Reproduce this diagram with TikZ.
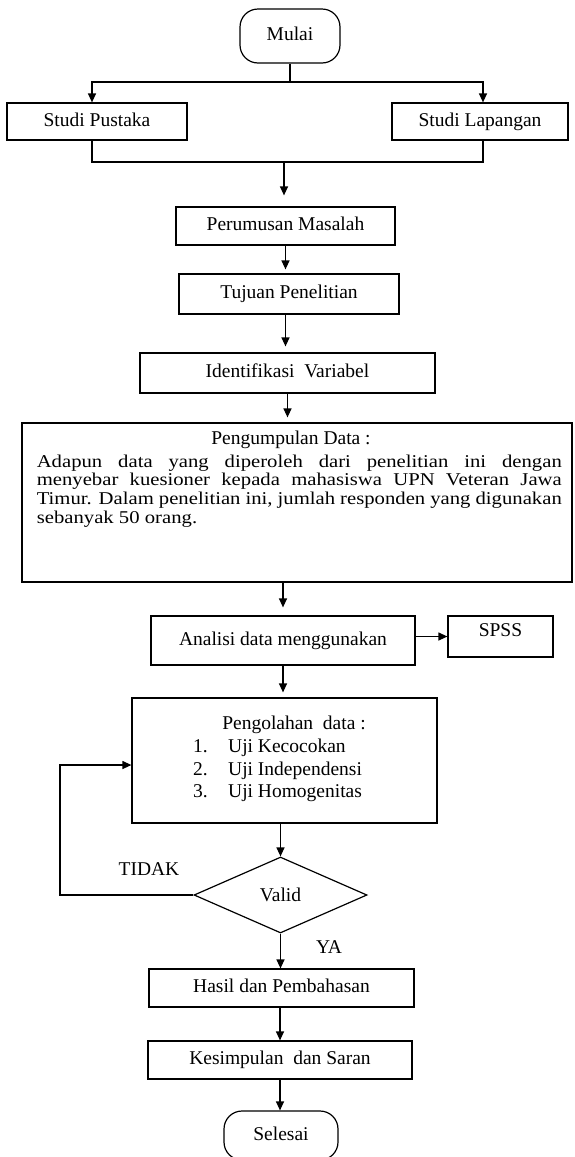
\documentclass[tikz,border=0pt]{standalone}
\usepackage{fontspec}
\setmainfont{Liberation Serif}
\newfontfamily\parafont[FakeStretch=1.15]{Liberation Serif}
\usetikzlibrary{arrows.meta,shapes.geometric}
\newcommand\lblfont{\fontsize{19.5}{22.5}\selectfont}
\tikzset{
  box/.style={draw, line width=1.2pt, inner sep=0pt, font=\lblfont, align=center, text height=13.5pt, text depth=4.5pt},
  terminal/.style={box, rounded corners=18pt},
  decision/.style={draw, line width=1.2pt, diamond, inner sep=0pt, font=\lblfont, aspect=2.28},
  plain/.style={inner sep=0pt, font=\lblfont},
  conn/.style={line width=1.2pt},
  arr/.style={conn, -{Triangle[length=9pt,width=8pt]}},
}
\begin{document}
\begin{tikzpicture}[x=1pt,y=-1pt]
\useasboundingbox (0,0) rectangle (574,1157);

% nodes
\node[terminal, minimum width=100pt, minimum height=54pt] (mulai) at (290,36) {Mulai};
\node[box, minimum width=180pt, minimum height=37pt] (sp) at (97,121.5) {Studi Pustaka};
\node[box, minimum width=176pt, minimum height=37pt] (sl) at (480,121.5) {Studi Lapangan};
\node[box, minimum width=219pt, minimum height=38pt] (pm) at (285.5,226) {Perumusan Masalah};
\node[box, minimum width=220pt, minimum height=40pt] (tp) at (289,294) {Tujuan Penelitian};
\node[box, minimum width=295pt, minimum height=40pt] (iv) at (287.5,373) {Identifikasi\ \ Variabel};
\node[box, minimum width=550pt, minimum height=159pt] (pd) at (297,502.5) {};
\node[plain] (pdhead) at (291,440) {Pengumpulan Data :};
\node[anchor=north west, inner sep=0pt, align=left,
      font=\parafont\fontsize{18}{18.8}\selectfont] (pdtext) at (36.6,454.5)
  {\makebox[525pt][s]{Adapun data yang diperoleh dari penelitian ini dengan}\\
   \makebox[525pt][s]{menyebar kuesioner kepada mahasiswa UPN Veteran Jawa}\\
   \makebox[525pt][s]{Timur. Dalam penelitian ini, jumlah responden yang digunakan}\\
   sebanyak 50 orang.};
\node[box, minimum width=264pt, minimum height=49pt] (an) at (283,640.5) {Analisi data menggunakan};
\node[box, minimum width=105pt, minimum height=41pt, text depth=14pt] (spss) at (500.5,636.5) {SPSS};
\node[box, minimum width=305pt, minimum height=125pt] (po) at (284.5,760.5) {};
\node[plain] (pohead) at (294,725) {Pengolahan\ \ data :};
\node[anchor=north west, inner sep=0pt, align=left, font=\lblfont] (polist) at (193,739)
  {\makebox[35pt][l]{1.}Uji Kecocokan\\
   \makebox[35pt][l]{2.}Uji Independensi\\
   \makebox[35pt][l]{3.}Uji Homogenitas};
\node[decision, minimum width=173pt, minimum height=76pt] (val) at (280.5,895) {Valid};
\node[plain] (tidak) at (149,869) {TIDAK};
\node[plain] (ya) at (329,947) {YA};
\node[box, minimum width=265pt, minimum height=38pt] (hb) at (281.5,988) {Hasil dan Pembahasan};
\node[box, minimum width=264pt, minimum height=38pt] (ks) at (280,1060) {Kesimpulan\ \ dan Saran};
\node[terminal, minimum width=114pt, minimum height=49pt] (se) at (281,1135.5) {Selesai};

% helper coordinates
\coordinate (j1) at (290,82);
\coordinate (j2) at (284,162);
\coordinate (fb) at (60,765);

% connectors
\draw[conn] (mulai.south) -- (j1);
\draw[arr] (j1) -| ([xshift=-5pt]sp.north);
\draw[arr] (j1) -| ([xshift=3pt]sl.north);
\draw[conn] ([xshift=-5pt]sp.south) |- (j2) -| ([xshift=3pt]sl.south);
\draw[arr, shorten >=11pt] (j2) -- (j2 |- pm.north);
\draw[arr, shorten >=4pt] (pm.south) -- (pm.south |- tp.north);
\draw[arr, shorten >=6pt] (pm.south |- tp.south) -- (pm.south |- iv.north);
\draw[arr, shorten >=5pt] (iv.south) -- (iv.south |- pd.north);
\draw[arr, shorten >=8pt] (an.north |- pd.south) -- (an.north);
\draw[arr] (spss.west -| an.east) -- (spss.west);
\draw[arr, shorten >=5pt] (an.south) -- (an.south |- po.north);
\draw[arr] (val.north |- po.south) -- (val.north);
\draw[arr] (val.west) -- (val.west -| fb) -- (fb) -- (fb -| po.west);
\draw[arr] (val.south) -- (val.south |- hb.north);
\draw[arr] (hb.south -| ks.south) -- (ks.north);
\draw[arr] (ks.south) -- (ks.south |- se.north);
\end{tikzpicture}
\end{document}
